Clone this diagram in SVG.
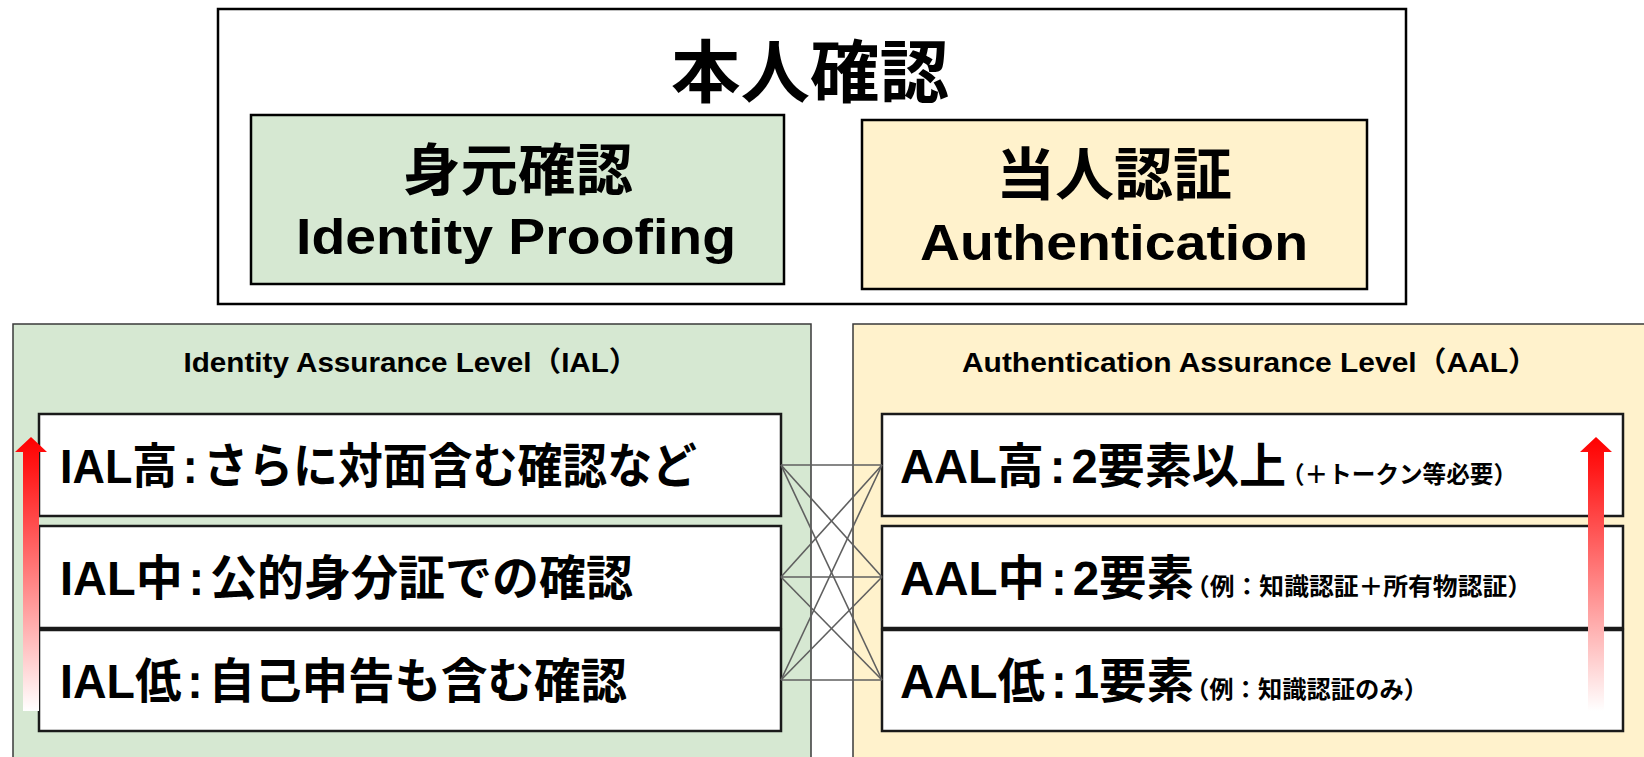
<svg xmlns="http://www.w3.org/2000/svg" width="1644" height="757" viewBox="0 0 1644 757">
<defs>
<style>
text{font-family:"Liberation Sans","Noto Sans CJK JP",sans-serif;font-weight:bold;fill:#000}
.box{stroke:#000;stroke-width:2.5}
.panel{stroke:#3a3a3a;stroke-width:1.5}
.row{fill:#fff;stroke:#1a1a1a;stroke-width:2.5}
.green{fill:#d6e8d2}
.yellow{fill:#fff2cc}
.conn{stroke:#5f5f5f;stroke-width:1.6;fill:none}
.big{font-size:48px}
.small{font-size:24px}
.title{font-size:28px;text-anchor:middle}
</style>
<linearGradient id="fade" x1="0" y1="0" x2="0" y2="1">
<stop offset="0" stop-color="#ff0000"/>
<stop offset="0.12" stop-color="#ff1a1a"/>
<stop offset="1" stop-color="#ffffff"/>
</linearGradient>
</defs>
<rect width="1644" height="757" fill="#fff"/>

<g id="honnin">
<rect x="218" y="9" width="1188" height="295" fill="#fff" class="box"/>
<text x="810" y="97" font-size="68" text-anchor="middle" textLength="278" lengthAdjust="spacingAndGlyphs">本人確認</text>
</g>

<g id="identity-proofing">
<rect x="251" y="115" width="533" height="169" class="box green"/>
<text x="518" y="190" font-size="56" text-anchor="middle" textLength="230" lengthAdjust="spacingAndGlyphs">身元確認</text>
<text x="516" y="254" font-size="50" text-anchor="middle" textLength="440" lengthAdjust="spacingAndGlyphs">Identity Proofing</text>
</g>

<g id="authentication">
<rect x="862" y="120" width="505" height="169" class="box yellow"/>
<text x="1114" y="195" font-size="57" text-anchor="middle" textLength="236" lengthAdjust="spacingAndGlyphs">当人認証</text>
<text x="1114" y="260" font-size="50" text-anchor="middle" textLength="388" lengthAdjust="spacingAndGlyphs">Authentication</text>
</g>

<g id="ial-panel">
<rect x="13" y="324" width="798" height="450" class="panel green"/>
<text x="411" y="372" class="title" textLength="455" lengthAdjust="spacingAndGlyphs">Identity Assurance Level（IAL）</text>
</g>

<g id="aal-panel">
<rect x="853" y="324" width="800" height="450" class="panel yellow"/>
<text x="1250" y="372" class="title" textLength="576" lengthAdjust="spacingAndGlyphs">Authentication Assurance Level（AAL）</text>
</g>

<g id="ial-high">
<rect x="39" y="414" width="742" height="102" class="row"/>
<text x="60" y="483" class="big" textLength="637" lengthAdjust="spacingAndGlyphs">IAL高<tspan dx="6">:</tspan><tspan dx="6">さらに対面含む確認など</tspan></text>
</g>
<g id="ial-mid">
<rect x="39" y="526" width="742" height="102" class="row"/>
<text x="60" y="595" class="big" textLength="573" lengthAdjust="spacingAndGlyphs">IAL中<tspan dx="6">:</tspan><tspan dx="6">公的身分証での確認</tspan></text>
</g>
<g id="ial-low">
<rect x="39" y="630" width="742" height="101" class="row"/>
<text x="60" y="698" class="big" textLength="567" lengthAdjust="spacingAndGlyphs">IAL低<tspan dx="6">:</tspan><tspan dx="6">自己申告も含む確認</tspan></text>
</g>

<g id="aal-high">
<rect x="882" y="414" width="741" height="102" class="row"/>
<text x="900" y="483" class="big" textLength="386" lengthAdjust="spacingAndGlyphs">AAL高<tspan dx="6">:</tspan><tspan dx="6">2要素以上</tspan></text>
<text x="1281" y="483" class="small" textLength="236" lengthAdjust="spacingAndGlyphs">（＋トークン等必要）</text>
</g>
<g id="aal-mid">
<rect x="882" y="526" width="741" height="102" class="row"/>
<text x="900" y="595" class="big" textLength="294" lengthAdjust="spacingAndGlyphs">AAL中<tspan dx="6">:</tspan><tspan dx="6">2要素</tspan></text>
<text x="1185" y="595" class="small" textLength="347" lengthAdjust="spacingAndGlyphs">（例：知識認証＋所有物認証）</text>
</g>
<g id="aal-low">
<rect x="882" y="630" width="741" height="101" class="row"/>
<text x="900" y="698" class="big" textLength="294" lengthAdjust="spacingAndGlyphs">AAL低<tspan dx="6">:</tspan><tspan dx="6">1要素</tspan></text>
<text x="1185" y="698" class="small" textLength="243" lengthAdjust="spacingAndGlyphs">（例：知識認証のみ）</text>
</g>

<g id="ial-arrow">
<path d="M23 711 V452 H15 L31 437 L47 452 H39 V711 Z" fill="url(#fade)"/>
</g>
<g id="aal-arrow">
<path d="M1588 711 V452 H1580 L1596 437 L1612 452 H1604 V711 Z" fill="url(#fade)"/>
</g>

<g id="connectors" class="conn">
<line x1="781" y1="465" x2="882" y2="465"/>
<line x1="781" y1="465" x2="882" y2="577"/>
<line x1="781" y1="465" x2="882" y2="680"/>
<line x1="781" y1="577" x2="882" y2="465"/>
<line x1="781" y1="577" x2="882" y2="577"/>
<line x1="781" y1="577" x2="882" y2="680"/>
<line x1="781" y1="680" x2="882" y2="465"/>
<line x1="781" y1="680" x2="882" y2="577"/>
<line x1="781" y1="680" x2="882" y2="680"/>
</g>
</svg>
